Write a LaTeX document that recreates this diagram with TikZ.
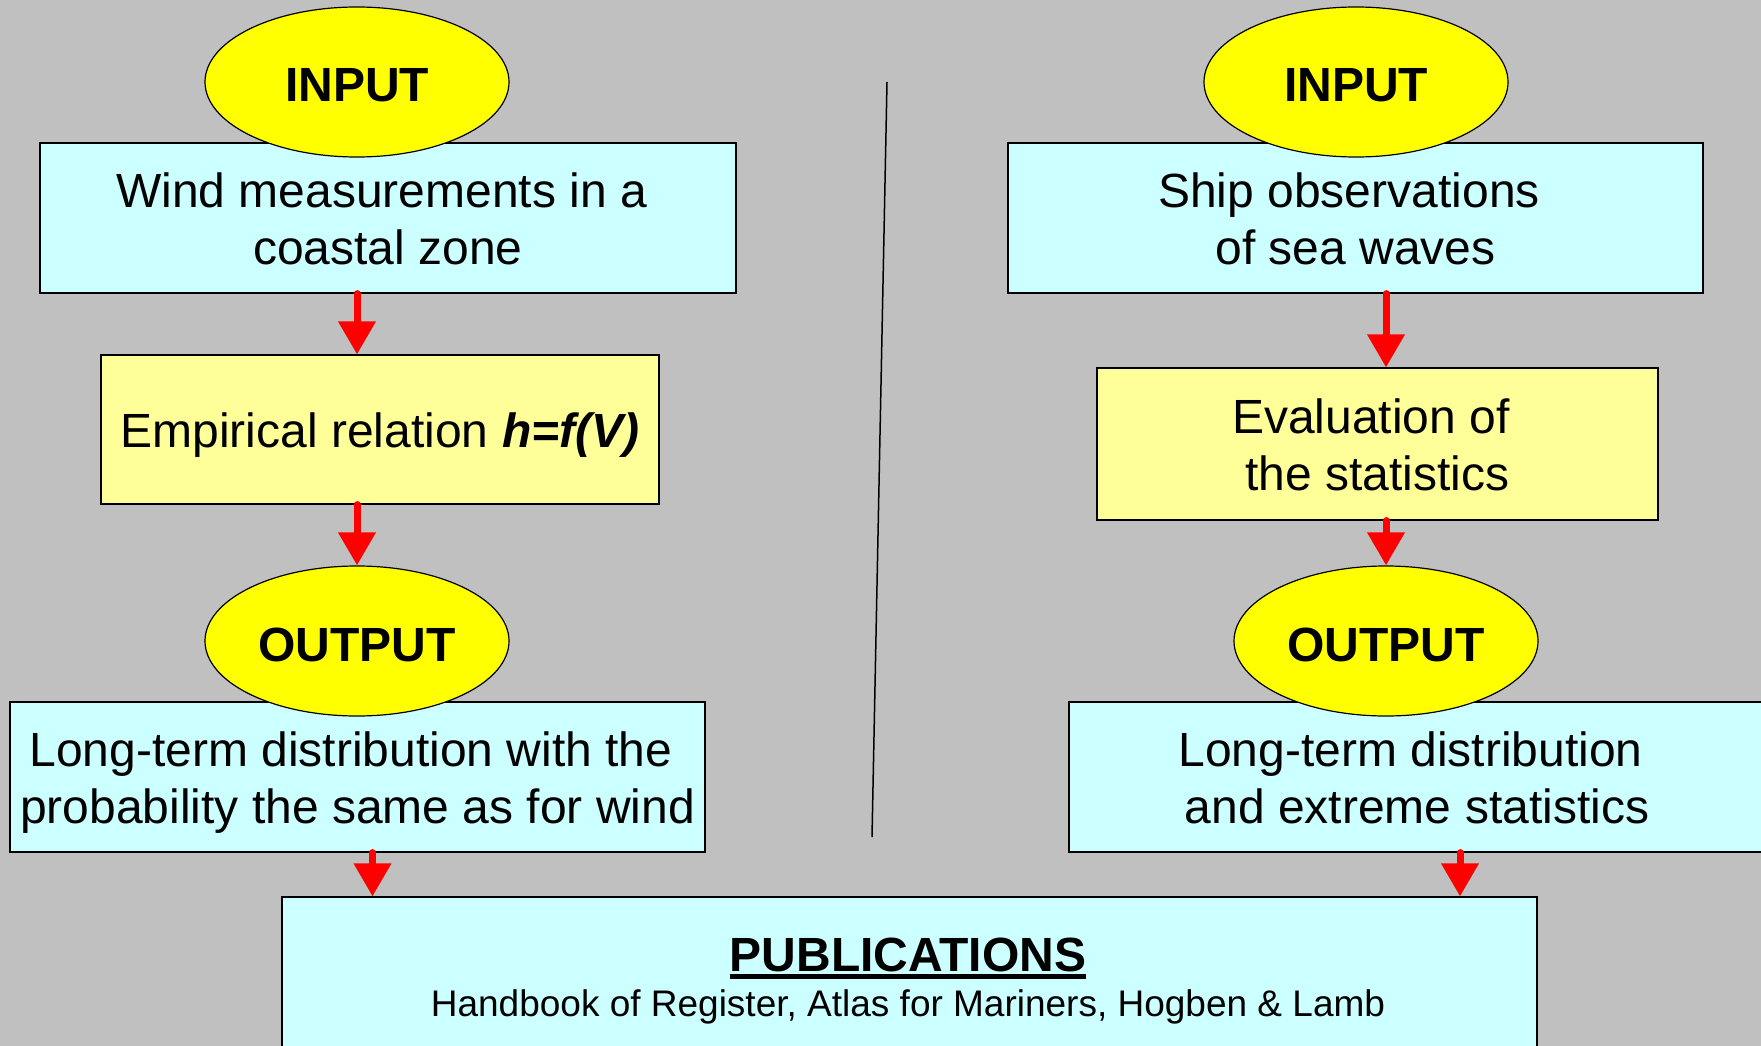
\documentclass[tikz,border=0pt]{standalone}
\usepackage{fontspec}
\setmainfont{Liberation Sans}
\usepackage{xcolor}
\usepackage{tikz}
\usetikzlibrary{calc,arrows.meta,shapes.geometric}
\definecolor{bg}{HTML}{C0C0C0}
\definecolor{sky}{HTML}{CCFFFF}
\definecolor{pale}{HTML}{FFFF99}
\definecolor{lemon}{HTML}{FFFF00}
\definecolor{flowred}{HTML}{FF0000}
\newlength\ulwd
\newcommand\thickul[1]{\settowidth\ulwd{#1}\rlap{\rule[-8pt]{\ulwd}{5pt}}#1}
\newcommand\boxstrut{\vrule height45pt depth10pt width0pt}
\newcommand\termstrut{\vrule height45pt depth5pt width0pt}
\newcommand\pair[2]{\boxstrut#1\kern13pt\\\boxstrut#2}
\tikzset{
  box/.style={draw=black, line width=1.2pt, rectangle, inner sep=0pt, align=center, font=\fontsize{48}{57}\selectfont,
    execute at begin node=\boxstrut},
  datbox/.style={box, fill=sky},
  calbox/.style={box, fill=pale},
  term/.style={draw=black, line width=1.2pt, ellipse, fill=lemon, minimum width=304pt, minimum height=150pt, inner sep=0pt,
    font=\fontsize{48}{58}\selectfont\bfseries, execute at begin node=\termstrut},
  flow/.style={draw=flowred, line width=7pt, line cap=round, -{Triangle[width=36pt,length=33pt]}},
  divider/.style={draw=black, line width=1.5pt},
  head/.style={font=\fontsize{48}{58}\selectfont\bfseries, anchor=base},
  src/.style={font=\fontsize{37}{44}\selectfont, anchor=base},
}

\begin{document}
\begin{tikzpicture}[x=1pt,y=-1pt]
  \useasboundingbox (0,0) rectangle (1761,1046);
  \clip (0,0) rectangle (1761,1046);
  \fill[bg] (0,0) rectangle (1761,1046);
  \coordinate (divtop) at (887,82);
  \coordinate (divbot) at (872,837);
  \draw[divider] (divtop) -- (divbot);

  \node[datbox, minimum width=696pt, minimum height=150pt] (lmeas) at (388,218) {\pair{Wind measurements in a}{coastal zone}};
  \node[calbox, minimum width=558pt, minimum height=149pt] (lemp) at (380,429.5) {Empirical relation \textbf{\textit{h=f(V)}}};
  \node[datbox, minimum width=695pt, minimum height=150pt] (lres) at (357.5,777) {\pair{Long-term distribution with the}{probability the same as for wind}};
  \node[datbox, minimum width=695pt, minimum height=150pt] (rship) at (1355.5,218) {\pair{Ship observations}{of sea waves}};
  \node[calbox, minimum width=561pt, minimum height=152pt] (reval) at (1377.5,444) {\pair{Evaluation of}{the statistics}};
  \node[datbox, minimum width=696pt, minimum height=150pt] (rres) at (1417,777) {\pair{Long-term distribution}{and extreme statistics}};
  \node[datbox, minimum width=1255pt, minimum height=203pt] (pub) at (909.5,998.5) {};
  \node[head] (pubhead) at (908,971) {\thickul{PUBLICATIONS}};
  \node[src] (pubsrc) at (908,1016) {Handbook of Register, Atlas for Mariners, Hogben \& Lamb};

  \node[term] (linput) at (357,82) {INPUT};
  \node[term] (loutput) at (357,641) {OUTPUT};
  \node[term] (rinput) at (1356,82) {INPUT};
  \node[term] (routput) at (1386,641) {OUTPUT};

  \draw[flow] (linput |- lmeas.south) -- (lemp.north -| linput);
  \draw[flow] (loutput |- lemp.south) -- (loutput.north);
  \draw[flow] (routput |- rship.south) -- (reval.north -| routput);
  \draw[flow] (routput |- reval.south) -- (routput.north);
  \draw[flow] ([xshift=15pt]lres.south) -- ([xshift=15pt]lres.south |- pub.north);
  \draw[flow] ([xshift=43pt]rres.south) -- ([xshift=43pt]rres.south |- pub.north);
\end{tikzpicture}
\end{document}
